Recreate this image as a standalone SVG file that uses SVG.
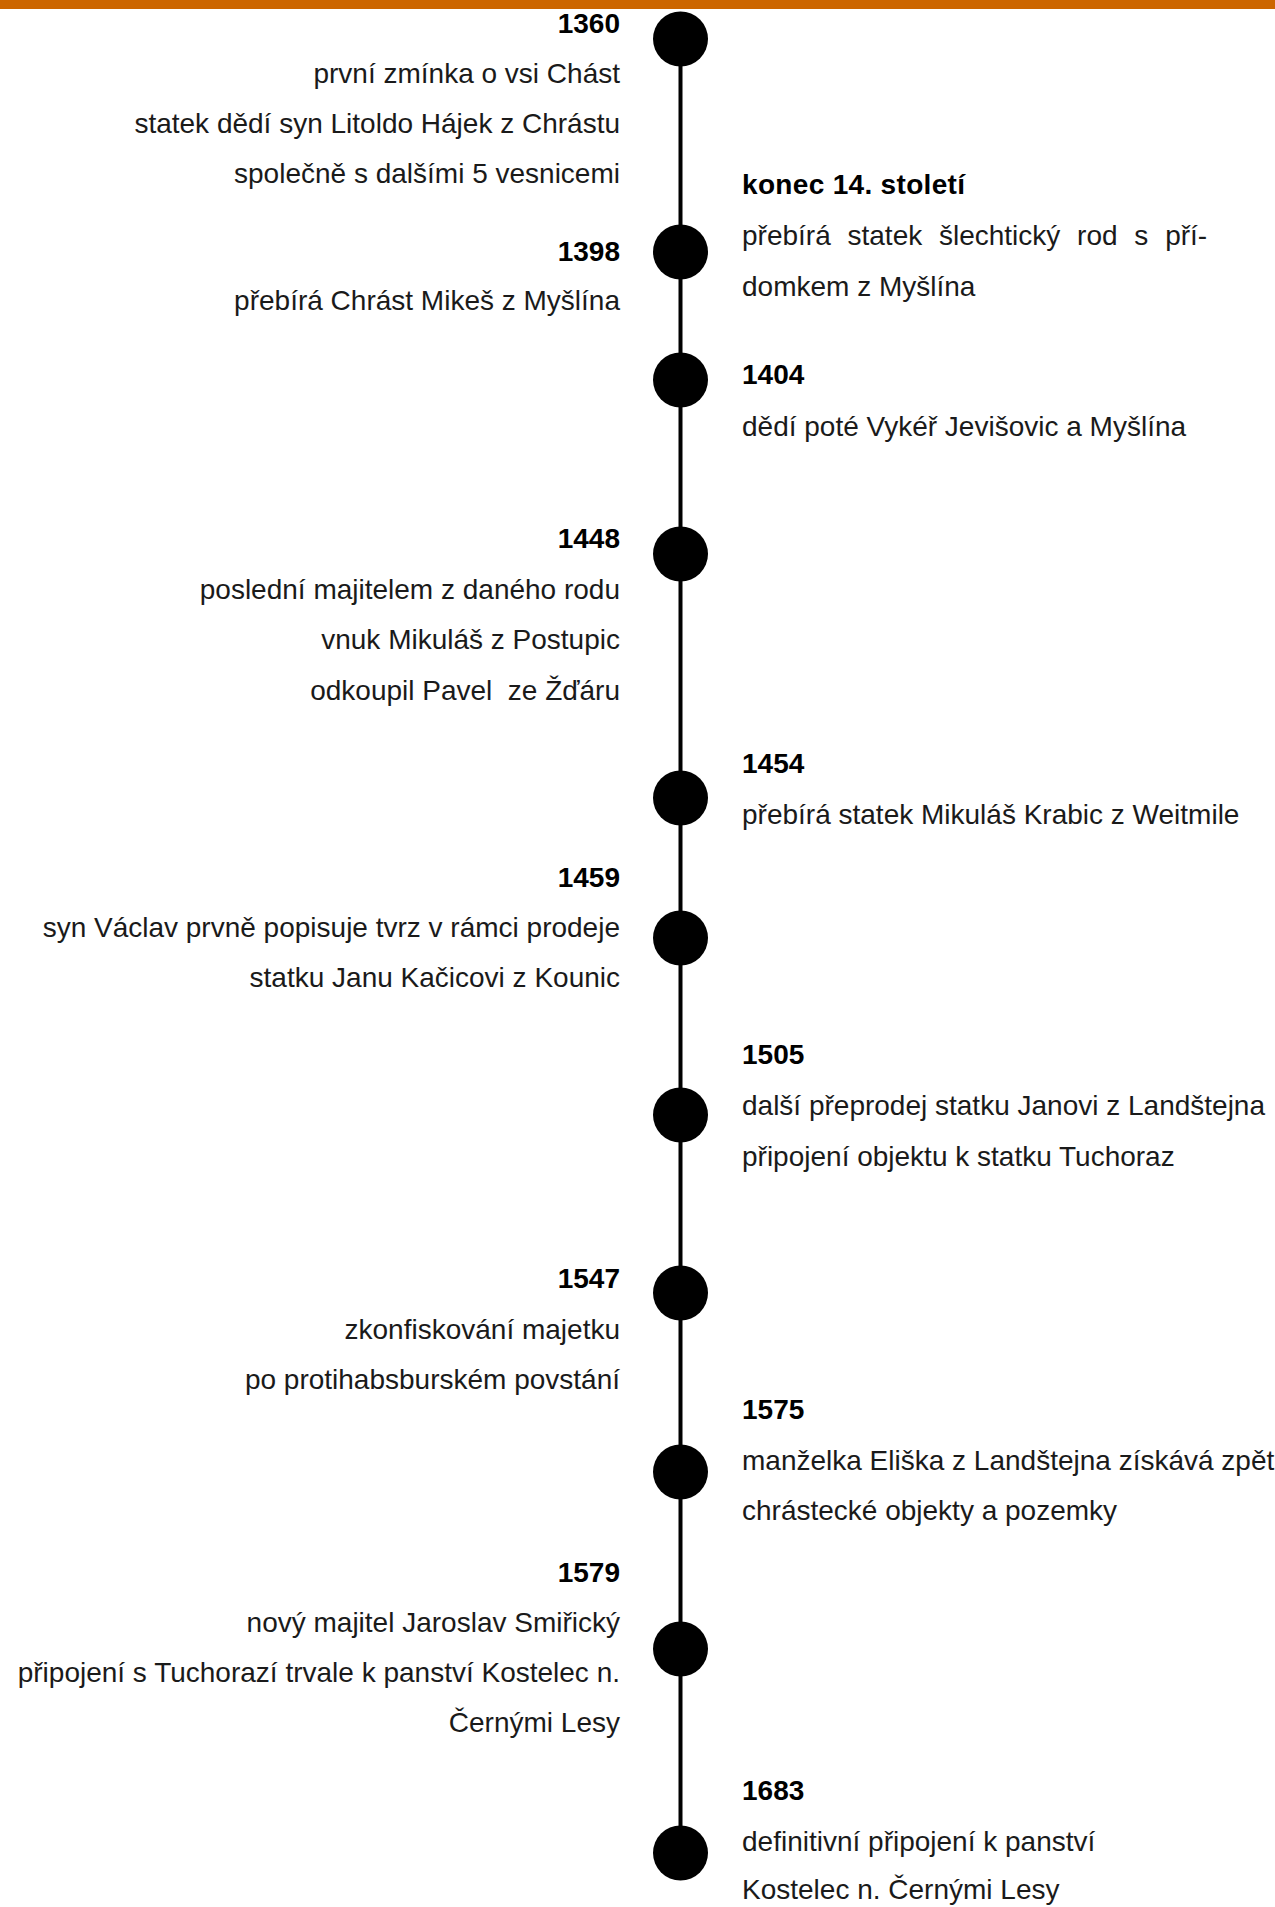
<svg xmlns="http://www.w3.org/2000/svg" width="1275" height="1907" viewBox="0 0 1275 1907">
<style>
  .bar { fill: #CC6600; }
  .spine { stroke: #000; stroke-width: 4; fill: none; }
  .dot { fill: #000; }
  .yr { font-family: "Liberation Sans", Arial, sans-serif; font-weight: bold; font-size: 28px; fill: #000; }
  .tx { font-family: "Liberation Sans", Arial, sans-serif; font-size: 28px; fill: #1a1a1a; white-space: pre; }
  .l { text-anchor: end; }
</style>
<rect width="1275" height="1907" fill="#fff"/>
<rect class="bar" x="0" y="0" width="1275" height="9"/>

<g id="connectors">
  <line class="spine" x1="680.5" y1="39" x2="680.5" y2="1853"/>
</g>

<g id="dots">
  <circle class="dot" cx="680.5" cy="39" r="27.5"/>
  <circle class="dot" cx="680.5" cy="252" r="27.5"/>
  <circle class="dot" cx="680.5" cy="380" r="27.5"/>
  <circle class="dot" cx="680.5" cy="554" r="27.5"/>
  <circle class="dot" cx="680.5" cy="798" r="27.5"/>
  <circle class="dot" cx="680.5" cy="938" r="27.5"/>
  <circle class="dot" cx="680.5" cy="1115" r="27.5"/>
  <circle class="dot" cx="680.5" cy="1293" r="27.5"/>
  <circle class="dot" cx="680.5" cy="1472" r="27.5"/>
  <circle class="dot" cx="680.5" cy="1649" r="27.5"/>
  <circle class="dot" cx="680.5" cy="1853" r="27.5"/>
</g>

<g id="e1360">
  <text class="yr l" x="620" y="33">1360</text>
  <text class="tx l" x="620" y="83">první zmínka o vsi Chást</text>
  <text class="tx l" x="620" y="133">statek dědí syn Litoldo Hájek z Chrástu</text>
  <text class="tx l" x="620" y="183">společně s dalšími 5 vesnicemi</text>
</g>

<g id="e14stoleti">
  <text class="yr" x="742" y="194" textLength="223" lengthAdjust="spacing">konec 14. století</text>
  <text class="tx" x="742" y="245" word-spacing="9">přebírá statek šlechtický rod s pří-</text>
  <text class="tx" x="742" y="296">domkem z Myšlína</text>
</g>

<g id="e1398">
  <text class="yr l" x="620" y="261">1398</text>
  <text class="tx l" x="620" y="310">přebírá Chrást Mikeš z Myšlína</text>
</g>

<g id="e1404">
  <text class="yr" x="742" y="384">1404</text>
  <text class="tx" x="742" y="436">dědí poté Vykéř Jevišovic a Myšlína</text>
</g>

<g id="e1448">
  <text class="yr l" x="620" y="548">1448</text>
  <text class="tx l" x="620" y="599">poslední majitelem z daného rodu</text>
  <text class="tx l" x="620" y="649">vnuk Mikuláš z Postupic</text>
  <text class="tx l" x="620" y="700" xml:space="preserve">odkoupil Pavel  ze Žďáru</text>
</g>

<g id="e1454">
  <text class="yr" x="742" y="773">1454</text>
  <text class="tx" x="742" y="824">přebírá statek Mikuláš Krabic z Weitmile</text>
</g>

<g id="e1459">
  <text class="yr l" x="620" y="887">1459</text>
  <text class="tx l" x="620" y="937">syn Václav prvně popisuje tvrz v rámci prodeje</text>
  <text class="tx l" x="620" y="987">statku Janu Kačicovi z Kounic</text>
</g>

<g id="e1505">
  <text class="yr" x="742" y="1064">1505</text>
  <text class="tx" x="742" y="1115">další přeprodej statku Janovi z Landštejna</text>
  <text class="tx" x="742" y="1166">připojení objektu k statku Tuchoraz</text>
</g>

<g id="e1547">
  <text class="yr l" x="620" y="1288">1547</text>
  <text class="tx l" x="620" y="1339">zkonfiskování majetku</text>
  <text class="tx l" x="620" y="1389">po protihabsburském povstání</text>
</g>

<g id="e1575">
  <text class="yr" x="742" y="1419">1575</text>
  <text class="tx" x="742" y="1470">manželka Eliška z Landštejna získává zpět</text>
  <text class="tx" x="742" y="1520">chrástecké objekty a pozemky</text>
</g>

<g id="e1579">
  <text class="yr l" x="620" y="1582">1579</text>
  <text class="tx l" x="620" y="1632">nový majitel Jaroslav Smiřický</text>
  <text class="tx l" x="620" y="1682">připojení s Tuchorazí trvale k panství Kostelec n.</text>
  <text class="tx l" x="620" y="1732">Černými Lesy</text>
</g>

<g id="e1683">
  <text class="yr" x="742" y="1800">1683</text>
  <text class="tx" x="742" y="1851">definitivní připojení k panství</text>
  <text class="tx" x="742" y="1899">Kostelec n. Černými Lesy</text>
</g>
</svg>
